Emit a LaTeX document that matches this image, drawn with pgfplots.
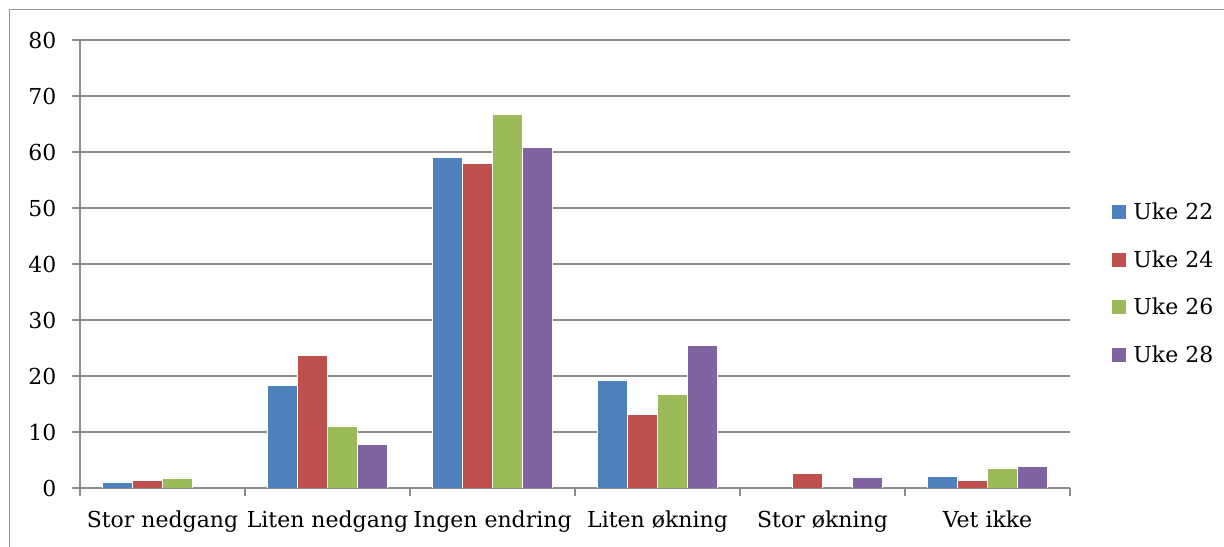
\documentclass[border=0pt]{standalone}
\usepackage{pgfplots}
\pgfplotsset{compat=1.18}
\usepackage{fontspec}
\setmainfont{DejaVu Serif}

\definecolor{uke22}{HTML}{4F81BD}
\definecolor{uke24}{HTML}{C0504D}
\definecolor{uke26}{HTML}{9BBB59}
\definecolor{uke28}{HTML}{8064A2}
\definecolor{gridgray}{RGB}{140,140,140}
\definecolor{framegray}{RGB}{150,150,150}

\begin{document}
\begin{tikzpicture}
\useasboundingbox (0,0) rectangle (1224bp,547bp);
\draw[framegray, line width=1.5bp] (9.5bp,0) -- (9.5bp,537.5bp) -- (1224bp,537.5bp);
\begin{axis}[
at={(80bp,59bp)}, anchor=south west,
scale only axis,
width=990bp, height=448bp,
font=\fontsize{22bp}{26bp}\selectfont,
/pgf/number format/assume math mode=true,
ybar=0pt, bar width=30bp,
xmin=-0.5, xmax=5.5,
ymin=0, ymax=80,
xtick={0,1,2,3,4,5},
xticklabels={Stor nedgang,Liten nedgang,Ingen endring,Liten økning,Stor økning,Vet ikke},
minor xtick={-0.5,0.5,1.5,2.5,3.5,4.5,5.5},
ytick={0,10,...,80},
major x tick style={draw=none},
tick align=outside,
major tick length=8bp, minor tick length=8bp,
tick style={gridgray, line width=1.5bp},
ymajorgrids,
y grid style={gridgray, line width=1.5bp},
axis x line*=bottom, axis y line*=left,
axis line style={gridgray, line width=1.5bp},
xticklabel style={yshift=-11bp},
yticklabel style={xshift=-12bp},
legend cell align={left},
legend style={draw=none, fill=none, at={(1.041,0.457)}, anchor=west,
  inner sep=0pt, row sep=25.5bp,
  /tikz/every odd column/.append style={column sep=5bp}},
legend image code/.code={\fill[#1] (0bp,-7.5bp) rectangle (15bp,7.5bp);},
every axis plot/.append style={draw=white, line width=0.6bp},
]
\addplot [fill=uke22] coordinates {(0,1.1) (1,18.3) (2,59.1) (3,19.3) (5,2.1)};
\addlegendentry{Uke 22}
\addplot [fill=uke24] coordinates {(0,1.3) (1,23.7) (2,57.9) (3,13.2) (4,2.6) (5,1.3)};
\addlegendentry{Uke 24}
\addplot [fill=uke26] coordinates {(0,1.8) (1,11.1) (2,66.7) (3,16.7) (5,3.6)};
\addlegendentry{Uke 26}
\addplot [fill=uke28] coordinates {(1,7.8) (2,60.8) (3,25.5) (4,2.0) (5,3.8)};
\addlegendentry{Uke 28}
\end{axis}
\end{tikzpicture}
\end{document}
